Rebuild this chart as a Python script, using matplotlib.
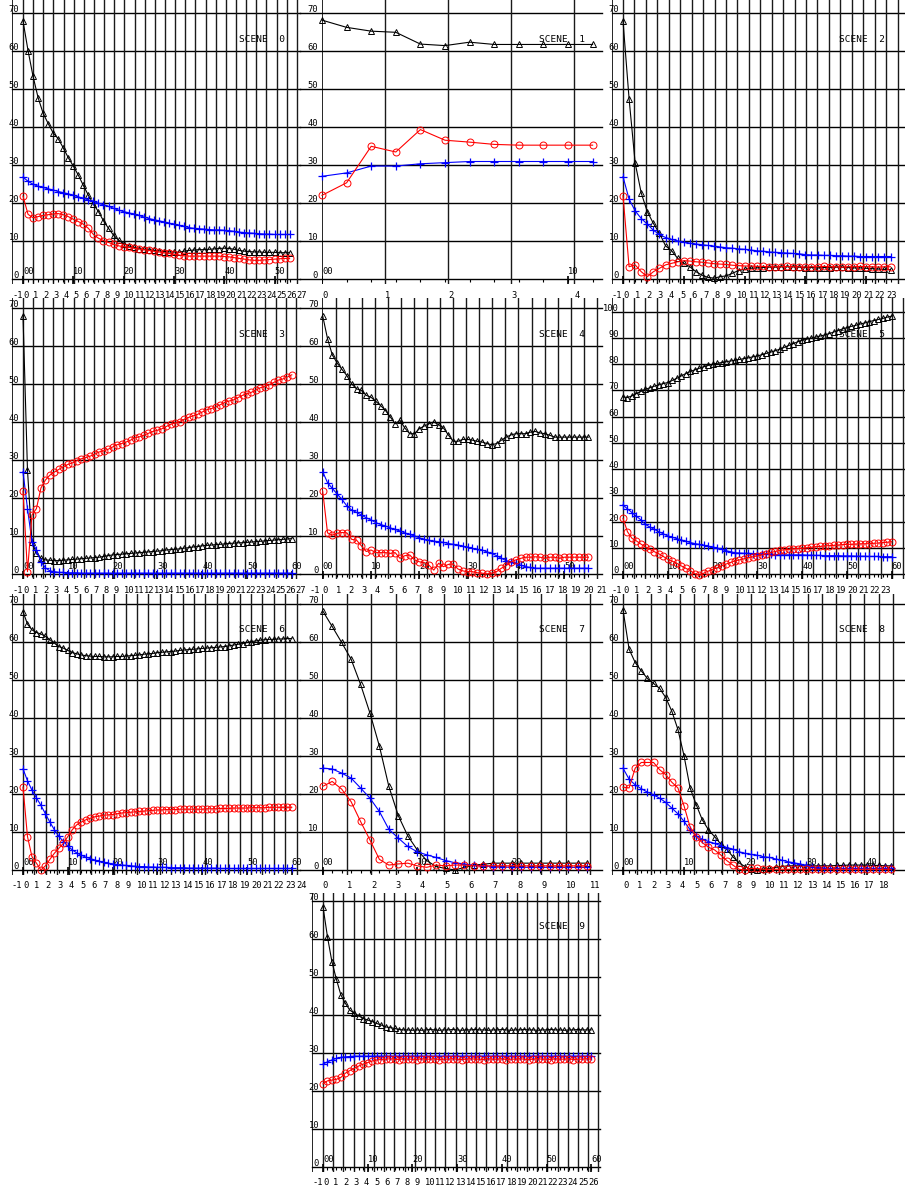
import matplotlib
matplotlib.use('Agg')
import matplotlib.pyplot as plt

W, H = 905, 1193
plt.rcParams['font.family'] = ['DejaVu Sans Mono']

# ---- values (index = sample number) ----
s0_black = [68.0, 60.2, 53.4, 47.8, 43.7, 41.0, 38.5, 37.0, 34.6, 32.0,
            29.8, 27.4, 24.7, 22.1, 19.8, 17.8, 15.4, 13.4, 11.6, 10.3,
            9.4, 8.8, 8.4, 8.1, 7.9, 7.8, 7.6, 7.5, 7.3, 7.2,
            7.2, 7.1, 7.4, 7.6, 7.7, 7.8, 7.8, 7.9, 8.0, 8.1,
            8.2, 8.1, 7.9, 7.6, 7.4, 7.3, 7.2, 7.2, 7.1, 7.1,
            7.1, 7.0, 7.0, 7.0]
s0_blue = [26.9, 25.8, 25.0, 24.5, 24.2, 23.8, 23.5, 23.1, 22.8, 22.5,
           22.1, 21.7, 21.3, 20.9, 20.5, 20.0, 19.6, 19.2, 18.7, 18.2,
           17.8, 17.5, 17.2, 16.8, 16.4, 16.0, 15.7, 15.4, 15.1, 14.8,
           14.5, 14.2, 13.9, 13.6, 13.4, 13.3, 13.2, 13.1, 13.0, 13.0,
           12.9, 12.8, 12.6, 12.4, 12.3, 12.2, 12.1, 12.0, 11.9, 11.9,
           11.8, 11.8, 11.8, 11.8]
s0_red = [21.9, 17.1, 16.2, 16.5, 16.8, 17.0, 17.2, 17.3, 17.0, 16.5,
          15.8, 15.2, 14.5, 13.4, 11.8, 10.8, 10.2, 9.7, 9.2, 8.8,
          8.6, 8.4, 8.2, 8.0, 7.8, 7.6, 7.4, 7.2, 7.0, 6.8,
          6.6, 6.4, 6.2, 6.1, 6.1, 6.1, 6.1, 6.1, 6.1, 6.1,
          6.0, 5.9, 5.7, 5.5, 5.3, 5.1, 5.0, 5.0, 5.1, 5.2,
          5.3, 5.4, 5.5, 5.5]

s1_black = [68.2, 66.3, 65.3, 65.0, 61.9, 61.5, 62.4, 61.8, 61.8, 61.8, 61.8, 61.8]
s1_blue = [27.1, 28.0, 29.8, 29.8, 30.4, 30.7, 31.0, 31.0, 31.0, 31.0, 31.0, 31.0]
s1_red = [22.1, 25.4, 35.0, 33.5, 39.4, 36.6, 36.1, 35.5, 35.3, 35.3, 35.3, 35.3]

s2_black = [68.0, 47.5, 30.6, 22.7, 17.8, 14.7, 12.1, 8.8, 7.5, 5.5,
            4.2, 3.3, 2.0, 1.1, 0.5, 0.3, 0.7, 0.9, 1.6, 2.3,
            2.6, 2.9, 3.0, 3.1, 3.2, 3.2, 3.3, 3.3, 3.3, 3.2,
            3.1, 3.1, 3.0, 3.1, 3.1, 3.2, 3.2, 3.1, 3.0, 3.0,
            2.9, 2.8, 2.7, 2.6, 2.5]
s2_blue = [27.0, 21.1, 18.0, 16.0, 14.5, 12.9, 11.8, 11.0, 10.5, 10.1,
           9.7, 9.5, 9.3, 9.1, 8.9, 8.7, 8.5, 8.3, 8.2, 8.0,
           7.9, 7.7, 7.5, 7.4, 7.2, 7.1, 7.0, 6.9, 6.8, 6.7,
           6.5, 6.4, 6.4, 6.3, 6.3, 6.2, 6.2, 6.1, 6.1, 6.0,
           6.0, 6.0, 6.0, 6.0, 6.0]
s2_red = [22.0, 3.3, 3.8, 2.0, 0.7, 2.0, 2.9, 3.8, 4.2, 4.6,
          4.9, 4.8, 4.6, 4.5, 4.3, 4.1, 4.0, 3.9, 3.7, 3.6,
          3.5, 3.5, 3.4, 3.4, 3.3, 3.3, 3.3, 3.4, 3.3, 3.3,
          3.2, 3.3, 3.3, 3.4, 3.3, 3.3, 3.2, 3.3, 3.3, 3.4,
          3.3, 3.3, 3.2, 3.3, 3.3]

s3_black = [68.0, 27.4, 8.6, 5.5, 4.2, 3.8, 3.7, 3.6, 3.6, 3.7,
            3.8, 3.9, 4.0, 4.1, 4.2, 4.3, 4.4, 4.5, 4.7, 4.9,
            5.1, 5.2, 5.3, 5.4, 5.5, 5.6, 5.7, 5.8, 5.9, 6.0,
            6.1, 6.2, 6.4, 6.5, 6.6, 6.7, 6.9, 7.0, 7.2, 7.3,
            7.5, 7.6, 7.7, 7.8, 7.9, 8.0, 8.1, 8.2, 8.3, 8.3,
            8.4, 8.5, 8.6, 8.7, 8.8, 8.9, 9.0, 9.1, 9.2, 9.3,
            9.4]
s3_blue = [27.0, 17.3, 8.6, 6.4, 3.3, 1.7, 0.9, 0.7, 0.5, 0.5,
           0.4, 0.4, 0.4, 0.3, 0.3, 0.3, 0.3, 0.3, 0.3, 0.3,
           0.3, 0.3, 0.3, 0.3, 0.3, 0.3, 0.3, 0.3, 0.3, 0.3,
           0.3, 0.3, 0.3, 0.3, 0.3, 0.3, 0.3, 0.3, 0.3, 0.3,
           0.3, 0.3, 0.3, 0.3, 0.3, 0.3, 0.3, 0.3, 0.3, 0.3,
           0.3, 0.3, 0.3, 0.3, 0.3, 0.3, 0.3, 0.3, 0.3, 0.3,
           0.3]
s3_red = [21.9, 0.7, 15.6, 17.3, 22.7, 24.8, 26.1, 26.9, 27.6, 28.3,
          28.9, 29.3, 29.9, 30.4, 30.7, 31.1, 31.6, 32.2, 32.5, 32.9,
          33.5, 34.1, 34.4, 34.8, 35.3, 35.9, 36.2, 36.6, 37.1, 37.6,
          37.9, 38.3, 38.9, 39.5, 39.8, 40.2, 40.8, 41.3, 41.7, 42.1,
          42.7, 43.3, 43.6, 44.0, 44.6, 45.2, 45.6, 45.9, 46.5, 47.1,
          47.5, 47.9, 48.5, 49.1, 49.4, 49.9, 50.5, 51.1, 51.4, 51.9,
          52.5]

s4_black = [68.0, 62.0, 57.7, 55.6, 53.9, 52.3, 50.1, 48.8, 48.4, 47.1,
            46.6, 45.5, 44.4, 43.1, 41.4, 39.6, 40.5, 38.5, 37.0, 37.0,
            38.3, 39.0, 39.6, 40.1, 39.4, 38.5, 36.7, 35.0, 35.0, 35.5,
            35.5, 35.3, 35.0, 34.8, 34.4, 34.1, 34.4, 35.3, 36.1, 36.7,
            37.0, 37.0, 37.0, 37.4, 37.6, 37.2, 37.0, 36.6, 36.1, 36.1,
            36.1, 36.1, 36.1, 36.1, 36.1, 36.1]
s4_blue = [27.0, 24.1, 22.6, 21.1, 19.7, 18.0, 16.9, 16.3, 15.6, 14.9,
           14.3, 13.6, 13.1, 12.7, 12.2, 11.8, 11.4, 10.9, 10.5, 10.1,
           9.6, 9.2, 8.9, 8.7, 8.6, 8.4, 8.1, 7.9, 7.7, 7.4,
           7.1, 6.8, 6.6, 6.4, 5.9, 5.5, 4.9, 4.2, 3.6, 3.3,
           2.9, 2.4, 2.0, 1.8, 1.6, 1.6, 1.6, 1.6, 1.6, 1.6,
           1.6, 1.6, 1.6, 1.6, 1.6, 1.6]
s4_red = [21.9, 10.9, 10.3, 10.8, 11.0, 10.9, 9.2, 9.0, 7.5, 6.0,
          6.4, 5.7, 5.7, 5.7, 5.5, 5.7, 4.2, 4.9, 5.1, 3.8,
          3.3, 3.1, 2.4, 1.1, 2.9, 2.0, 2.6, 2.7, 1.4, 0.9,
          0.7, 0.7, 0.4, 0.3, 0.1, 0.3, 0.7, 1.6, 2.3, 3.3,
          3.8, 4.2, 4.5, 4.5, 4.6, 4.5, 4.2, 4.5, 4.5, 4.2,
          4.5, 4.5, 4.5, 4.5, 4.5, 4.5]

s5_black = [67.5, 67.3, 67.9, 68.8, 69.6, 70.4, 71.0, 71.6, 72.1, 72.6,
            73.0, 73.8, 74.6, 75.5, 76.4, 77.2, 77.8, 78.4, 79.0, 79.5,
            80.0, 80.3, 80.6, 80.9, 81.2, 81.5, 81.8, 82.1, 82.4, 82.8,
            83.1, 83.6, 84.1, 84.6, 85.1, 85.7, 86.4, 87.1, 87.8, 88.5,
            89.1, 89.5, 89.9, 90.3, 90.7, 91.1, 91.6, 92.2, 92.8, 93.4,
            93.9, 94.4, 94.8, 95.3, 95.7, 96.2, 96.6, 97.0, 97.4, 97.9,
            98.3]
s5_blue = [26.4, 24.9, 23.5, 22.1, 20.7, 19.0, 18.0, 17.1, 16.2, 15.4,
           14.6, 14.1, 13.6, 13.1, 12.6, 12.1, 11.7, 11.4, 11.0, 10.7,
           10.4, 10.0, 9.5, 9.0, 8.6, 8.2, 8.1, 8.0, 8.0, 7.9,
           7.9, 7.8, 7.7, 7.6, 7.5, 7.4, 7.4, 7.4, 7.4, 7.4,
           7.4, 7.3, 7.3, 7.2, 7.2, 7.1, 7.1, 7.1, 7.1, 7.0,
           7.0, 7.0, 6.9, 6.9, 6.9, 6.8, 6.8, 6.8, 6.7, 6.7,
           6.7]
s5_red = [21.3, 16.2, 13.7, 12.7, 11.5, 10.4, 9.5, 8.6, 7.8, 6.8,
          5.7, 5.0, 4.2, 3.2, 2.3, 1.4, 0.3, -0.4, 0.4, 1.2,
          1.8, 2.5, 3.2, 3.9, 4.5, 5.1, 5.5, 5.9, 6.3, 6.7,
          7.0, 7.4, 7.9, 8.3, 8.7, 9.1, 9.3, 9.5, 9.7, 9.8,
          9.9, 10.1, 10.3, 10.5, 10.6, 10.8, 10.9, 11.0, 11.1, 11.3,
          11.4, 11.4, 11.5, 11.6, 11.6, 11.7, 11.8, 11.9, 12.1, 12.2,
          12.4]

s6_black = [68.0, 64.7, 63.2, 62.5, 62.1, 61.5, 60.6, 59.7, 58.8, 58.4,
            57.8, 57.2, 56.9, 56.6, 56.4, 56.3, 56.2, 56.2, 56.1, 56.1,
            56.1, 56.2, 56.2, 56.3, 56.4, 56.5, 56.6, 56.8, 56.9, 57.0,
            57.2, 57.3, 57.4, 57.5, 57.6, 57.8, 57.9, 58.0, 58.1, 58.2,
            58.3, 58.4, 58.5, 58.6, 58.7, 58.8, 59.0, 59.2, 59.4, 59.6,
            59.9, 60.1, 60.3, 60.5, 60.6, 60.7, 60.7, 60.8, 60.8, 60.9,
            60.9]
s6_blue = [26.6, 23.5, 21.0, 19.0, 17.0, 14.8, 12.6, 10.6, 8.9, 7.5,
           6.3, 5.3, 4.5, 3.9, 3.4, 3.0, 2.6, 2.3, 2.0, 1.8,
           1.6, 1.4, 1.3, 1.2, 1.1, 1.0, 0.9, 0.9, 0.8, 0.8,
           0.7, 0.7, 0.7, 0.6, 0.6, 0.6, 0.6, 0.5, 0.5, 0.5,
           0.5, 0.5, 0.5, 0.5, 0.4, 0.4, 0.4, 0.4, 0.4, 0.4,
           0.4, 0.4, 0.4, 0.4, 0.4, 0.4, 0.4, 0.4, 0.4, 0.4,
           0.4]
s6_red = [21.8, 8.8, 3.5, 1.8, 0.0, 1.1, 2.8, 4.4, 5.7, 7.0,
          8.8, 10.6, 11.9, 12.6, 13.2, 13.6, 14.0, 14.2, 14.4, 14.5,
          14.6, 14.8, 15.0, 15.1, 15.2, 15.3, 15.4, 15.5, 15.6, 15.7,
          15.8, 15.8, 15.9, 15.9, 15.9, 16.0, 16.0, 16.0, 16.0, 16.0,
          16.0, 16.1, 16.1, 16.1, 16.2, 16.2, 16.2, 16.3, 16.3, 16.3,
          16.3, 16.4, 16.4, 16.4, 16.4, 16.5, 16.5, 16.5, 16.5, 16.5,
          16.5]

s7_black = [68.2, 64.1, 59.9, 55.5, 48.9, 41.3, 32.6, 22.0, 14.3, 9.0,
            5.3, 2.5, 0.9, 0.4, 0.0, 0.7, 1.3, 1.5, 1.8, 1.8,
            1.8, 1.8, 1.8, 1.8, 1.8, 1.8, 1.8, 1.8, 1.8]
s7_blue = [26.8, 26.6, 25.5, 24.2, 21.6, 18.9, 15.4, 10.7, 8.4, 6.2,
           4.8, 4.0, 3.3, 2.5, 1.9, 1.6, 1.2, 1.1, 0.9, 0.8,
           0.7, 0.7, 0.7, 0.7, 0.7, 0.7, 0.7, 0.7, 0.7]
s7_red = [22.0, 23.3, 21.3, 18.0, 12.8, 7.9, 2.8, 1.3, 1.6, 1.8,
          1.1, 0.7, 1.3, 1.1, 1.3, 1.3, 1.1, 1.1, 1.1, 1.1,
          1.1, 1.1, 1.1, 1.1, 1.1, 1.1, 1.1, 1.1, 1.1]

s8_black = [68.5, 58.1, 54.6, 52.4, 50.4, 49.1, 47.8, 45.4, 41.8, 37.0,
            30.1, 21.6, 17.2, 13.2, 10.6, 8.8, 6.9, 5.5, 3.5, 1.9,
            0.9, 0.2, 0.0, 0.2, 0.4, 0.7, 0.9, 1.1, 1.1, 1.1,
            1.1, 1.1, 1.1, 1.1, 1.1, 1.2, 1.2, 1.3, 1.3, 1.3,
            1.3, 1.2, 1.2, 1.1, 1.1]
s8_blue = [26.8, 23.9, 22.4, 21.4, 20.5, 19.8, 18.9, 17.8, 16.3, 14.8,
           12.8, 10.6, 9.0, 8.1, 7.5, 7.0, 6.4, 5.9, 5.5, 4.8,
           4.4, 4.1, 3.9, 3.5, 3.3, 2.9, 2.6, 2.2, 1.9, 1.6,
           1.2, 0.9, 0.6, 0.5, 0.4, 0.4, 0.4, 0.4, 0.4, 0.4,
           0.4, 0.4, 0.4, 0.4, 0.4]
s8_red = [21.8, 21.6, 26.8, 28.3, 28.3, 28.3, 26.4, 25.1, 23.1, 21.6,
          16.9, 11.3, 8.8, 7.2, 6.0, 5.3, 4.0, 2.5, 1.3, 0.2,
          0.0, 0.4, 0.4, 0.2, 0.2, 0.2, 0.2, 0.2, 0.2, 0.2,
          0.2, 0.2, 0.2, 0.2, 0.2, 0.2, 0.2, 0.2, 0.2, 0.2,
          0.2, 0.2, 0.2, 0.2, 0.2]

s9_black = [68.4, 60.5, 53.9, 49.3, 45.2, 43.0, 41.2, 40.4, 39.7, 39.0,
            38.6, 38.2, 37.7, 37.3, 36.8, 36.6, 36.4, 36.1, 36.0, 36.0,
            35.9, 36.0, 35.9, 36.0, 36.1, 36.0, 35.9, 36.0, 36.0, 36.1,
            36.0, 35.9, 36.0, 36.0, 36.1, 36.0, 36.0, 35.9, 36.0, 36.0,
            36.1, 36.0, 35.9, 36.0, 36.0, 36.1, 36.0, 36.0, 35.9, 36.0,
            36.0, 36.1, 36.0, 36.0, 35.9, 36.0, 36.0, 36.1, 36.0, 36.0,
            36.0]
s9_blue = [27.0, 27.6, 28.1, 28.5, 28.8, 28.9, 29.0, 29.1, 29.1, 29.1,
           29.1, 29.1, 29.1, 29.1, 29.1, 29.1, 29.1, 29.1, 29.1, 29.1,
           29.1, 29.1, 29.1, 29.1, 29.1, 29.1, 29.1, 29.1, 29.1, 29.1,
           29.1, 29.1, 29.1, 29.1, 29.1, 29.1, 29.1, 29.1, 29.1, 29.1,
           29.1, 29.1, 29.1, 29.1, 29.1, 29.1, 29.1, 29.1, 29.1, 29.1,
           29.1, 29.1, 29.1, 29.1, 29.1, 29.1, 29.1, 29.1, 29.1, 29.1,
           29.1]
s9_red = [21.8, 22.6, 22.8, 23.0, 23.5, 24.6, 25.3, 25.9, 26.5, 27.0,
          27.4, 27.8, 28.1, 28.2, 28.3, 28.4, 28.3, 28.2, 28.4, 28.3,
          28.3, 28.2, 28.4, 28.3, 28.3, 28.4, 28.2, 28.3, 28.3, 28.4,
          28.3, 28.2, 28.3, 28.4, 28.3, 28.3, 28.2, 28.4, 28.3, 28.3,
          28.4, 28.2, 28.3, 28.3, 28.4, 28.3, 28.2, 28.3, 28.4, 28.3,
          28.3, 28.2, 28.4, 28.3, 28.3, 28.4, 28.2, 28.3, 28.3, 28.4,
          28.3]

series = [
    (s0_black, s0_blue, s0_red), (s1_black, s1_blue, s1_red), (s2_black, s2_blue, s2_red),
    (s3_black, s3_blue, s3_red), (s4_black, s4_blue, s4_red), (s5_black, s5_blue, s5_red),
    (s6_black, s6_blue, s6_red), (s7_black, s7_blue, s7_red), (s8_black, s8_blue, s8_red),
    (s9_black, s9_blue, s9_red),
]
y_max = [70, 70, 70, 70, 70, 100, 70, 70, 70, 70]
bottom_ticks = [(-1, 27), (0, 4), (-1, 24), (-1, 27), (-1, 21), (-1, 25),
                (-1, 24), (0, 11), (0, 20), (-1, 27)]

# layout in pixels: column base, axis line, right edge, first sample, px per sample, px per grid step, row
layout = [
    (0, 12, 300, 23, 5.03, 10.14, 0), (300, 322, 602, 322, 24.6, 63.1, 0), (600, 612, 905, 623, 6.08, 11.44, 0),
    (0, 12, 300, 23, 4.48, 10.1, 1), (300, 322, 602, 322.7, 4.83, 13.05, 1), (600, 612, 905, 623, 4.48, 11.2, 1),
    (0, 12, 300, 23, 4.48, 11.4, 2), (300, 322, 602, 322.7, 9.45, 24.3, 2), (600, 612, 905, 623, 6.1, 14.2, 2),
    (300, 312, 600, 323, 4.47, 10.2, 3),
]
row_top = [0, 298, 594, 893]
row_zero = [279.3, 574.3, 870, 1166.7]

fig = plt.figure(figsize=(W / 100, H / 100), dpi=100)
fs = 6.3

for n, ((black, blue, red), ymx, (kmin, kmax), lay) in enumerate(zip(series, y_max, bottom_ticks, layout)):
    base, L, R, P0, p, g, row = lay
    top, zero = row_top[row], row_zero[row]
    ppu = 3.8 if ymx == 70 else 2.627   # pixels per y unit
    bottom = zero + 5
    ax = fig.add_axes([L / W, 1 - bottom / H, (R - L) / W, (bottom - top) / H])
    ax.set_xlim((L - P0) / p, (R - P0) / p)
    ax.set_ylim(-(bottom - zero) / ppu, (zero - top) / ppu)
    ax.axis('off')
    px, py = 1.0 / p, 1.0 / ppu
    hl = base if (base > 0 and L - base > 15) else L
    xa, xb = (hl - P0) / p, (R - P0) / p

    # horizontal grid and y labels
    for v in range(0, ymx + 1, 10):
        ax.plot([xa, xb], [v, v], color='k', lw=1.0, clip_on=False, zorder=1)
        ax.text(-4 * px, v - 1 * py, str(v), ha='right', va='bottom', fontsize=fs, clip_on=False)
    # vertical grid and bottom labels
    ax.axvline((L - P0) / p, color='k', lw=1.2, zorder=1)
    for k in range(kmin, kmax + 1):
        xpix = P0 + k * g
        if L + 2 <= xpix <= R:
            ax.axvline(k * g / p, color='0.1', lw=1.0, zorder=1)
        if L - 15 <= xpix <= R - 3 and xpix + 4 + 5 * len(str(k)) <= W:
            ax.text(k * g / p, -16 * py, str(k), ha='left', va='center', fontsize=fs, clip_on=False)

    # sample axis on the zero line
    npts = len(black)
    idx = list(range(npts))
    ax.vlines(idx, -3 * py, 0, color='k', lw=0.8)
    tens = [i for i in idx if i % 10 == 0]
    ax.vlines(tens, -8 * py, 3 * py, color='k', lw=1.2)
    if n != 2:
        for i in tens:
            ax.text(i, 3 * py, '00' if i == 0 else str(i), ha='left', va='bottom', fontsize=fs)

    ax.plot(idx, black, color='k', lw=0.8, marker='^', ms=5, mfc='none', mew=0.7, clip_on=False, zorder=3)
    ax.plot(idx, blue, color='#0000ff', lw=0.8, marker='+', ms=6, mew=0.9, clip_on=False, zorder=4)
    ax.plot(idx, red, color='#ff0000', lw=0.8, marker='o', ms=5, mfc='none', mew=0.7, clip_on=False, zorder=5)

    ax.text((base + 239 - P0) / p, 240 * py, f'SCENE  {n}', ha='left', va='center', fontsize=fs + 0.5)

fig.savefig('out.png', dpi=100, facecolor='white')
